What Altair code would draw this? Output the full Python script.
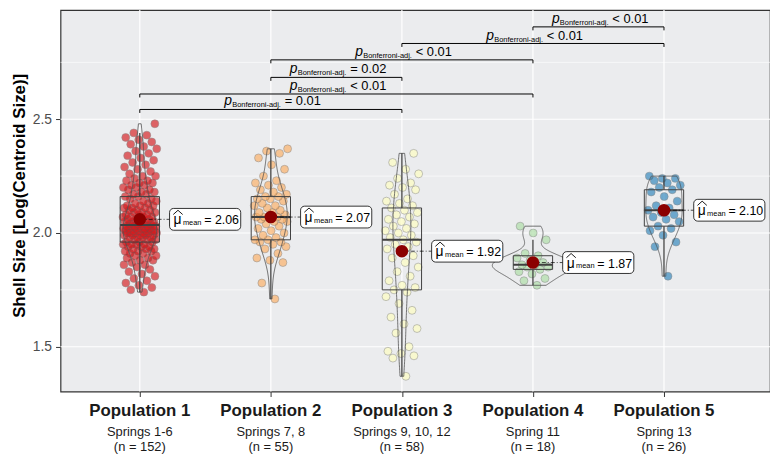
import altair as alt
import numpy as np
import pandas as pd

FONT = "Liberation Sans"

groups = ["Population 1", "Population 2", "Population 3", "Population 4", "Population 5"]
springs = ["Springs 1-6", "Springs 7, 8", "Springs 9, 10, 12", "Spring 11", "Spring 13"]
n_labels = ["(n = 152)", "(n = 55)", "(n = 58)", "(n = 18)", "(n = 26)"]
colors = ["#D7191C", "#FDAE61", "#FFFFBF", "#ABDDA4", "#2B83BA"]

pop1 = [
    1.74, 1.75, 1.76, 1.77, 1.78, 1.79, 1.80, 1.81, 1.82, 1.83,
    1.84, 1.85, 1.86, 1.86, 1.87, 1.88, 1.88, 1.89, 1.89, 1.90,
    1.90, 1.91, 1.91, 1.92, 1.92, 1.92, 1.93, 1.93, 1.93, 1.94,
    1.94, 1.94, 1.95, 1.95, 1.95, 1.95, 1.96, 1.96,
    1.96, 1.97, 1.97, 1.97, 1.98, 1.98, 1.98, 1.98, 1.99, 1.99,
    1.99, 1.99, 1.99, 2.00, 2.00, 2.00, 2.00, 2.00, 2.00, 2.01,
    2.01, 2.01, 2.01, 2.01, 2.01, 2.02, 2.02, 2.02, 2.02, 2.02,
    2.02, 2.03, 2.03, 2.03, 2.03, 2.03, 2.03, 2.03,
    2.04, 2.04, 2.04, 2.04, 2.05, 2.05, 2.05, 2.05, 2.06, 2.06,
    2.06, 2.06, 2.07, 2.07, 2.07, 2.07, 2.08, 2.08, 2.08, 2.09,
    2.09, 2.09, 2.10, 2.10, 2.10, 2.11, 2.11, 2.11, 2.12, 2.12,
    2.12, 2.13, 2.13, 2.14, 2.14, 2.15, 2.15, 2.16,
    2.16, 2.17, 2.17, 2.18, 2.18, 2.19, 2.19, 2.20, 2.20, 2.21,
    2.21, 2.22, 2.22, 2.23, 2.23, 2.24, 2.25, 2.25, 2.26, 2.27,
    2.28, 2.29, 2.30, 2.31, 2.32, 2.33, 2.34, 2.35, 2.36, 2.37,
    2.38, 2.39, 2.40, 2.41, 2.42, 2.43, 2.44, 2.48,
]
pop2 = [
    1.71, 1.78, 1.87, 1.88, 1.89, 1.91, 1.93, 1.94, 1.95, 1.96, 1.96, 1.97, 1.97, 1.98,
    1.99, 2.00, 2.01, 2.02, 2.03, 2.04, 2.05, 2.05, 2.06, 2.06, 2.07, 2.07, 2.07, 2.07,
    2.08, 2.09, 2.09, 2.10, 2.11, 2.12, 2.12, 2.13, 2.14, 2.15, 2.15, 2.16, 2.16,
    2.17, 2.18, 2.19, 2.20, 2.21, 2.22, 2.23, 2.25, 2.28, 2.30, 2.33, 2.35, 2.36, 2.37,
]
pop3 = [
    1.37, 1.45, 1.46, 1.47, 1.48, 1.50, 1.56, 1.58, 1.60, 1.63, 1.66, 1.69, 1.72, 1.74, 1.75,
    1.76, 1.77, 1.79, 1.81, 1.83, 1.85, 1.87, 1.89, 1.90, 1.92, 1.93, 1.94, 1.95, 1.96, 1.97,
    1.98, 1.99, 2.00, 2.01, 2.02, 2.03, 2.04, 2.05, 2.06, 2.07, 2.08, 2.09, 2.10, 2.11,
    2.12, 2.13, 2.14, 2.15, 2.17, 2.19, 2.20, 2.21, 2.22, 2.24, 2.26, 2.28, 2.31, 2.35,
]
pop4 = [1.77, 1.79, 1.80, 1.82, 1.83, 1.84, 1.85, 1.85, 1.86, 1.86, 1.87, 1.88, 1.89,
        1.90, 1.91, 1.97, 2.00, 2.03]
pop5 = [1.81, 1.94, 1.96, 1.99, 2.01, 2.02, 2.03, 2.05, 2.06, 2.07, 2.08, 2.09, 2.10,
        2.11, 2.12, 2.14, 2.16, 2.18, 2.19, 2.20, 2.21, 2.22, 2.23, 2.24, 2.24, 2.25]

means = [2.06, 2.07, 1.92, 1.87, 2.10]
mean_text = ["= 2.06", "= 2.07", "= 1.92", "= 1.87", "= 2.10"]
q1 = [1.96, 1.97, 1.75, 1.84, 2.03]
median = [2.035, 2.07, 1.97, 1.86, 2.10]
q3 = [2.16, 2.16, 2.11, 1.90, 2.19]
whisk_lo = [1.74, 1.71, 1.37, 1.77, 1.81]
whisk_hi = [2.44, 2.37, 2.35, 1.97, 2.25]

pair_from = [1, 1, 2, 2, 3, 4]
pair_to = [3, 4, 3, 4, 5, 5]
pair_y = [2.543, 2.611, 2.684, 2.761, 2.833, 2.906]
pair_p = ["= 0.01", "< 0.01", "= 0.02", "< 0.01", "< 0.01", "< 0.01"]

y_major = [1.5, 2.0, 2.5]
y_minor = [1.75, 2.25, 2.75]
positions = [1, 2, 3, 4, 5]

# ---------------- tables ----------------
pops = [pop1, pop2, pop3, pop4, pop5]
pts = pd.DataFrame({
    "pop": np.repeat(positions, [len(p) for p in pops]),
    "value": np.concatenate(pops),
})
stats = pd.DataFrame({
    "pop": positions, "q1": q1, "med": median, "q3": q3,
    "lo": whisk_lo, "hi": whisk_hi, "mean": means, "mtxt": mean_text,
})
pairs = pd.DataFrame({"a": pair_from, "b": pair_to, "y": pair_y, "ptxt": pair_p})
labels = pd.DataFrame({"pop": positions, "grp": groups, "spr": springs, "nl": n_labels})

W, H = 716, 385
xs = alt.Scale(domain=[0.395, 5.809], nice=False, zero=False)
ys = alt.Scale(domain=[1.303, 2.98], nice=False, zero=False)
PX_X = (5.809 - 0.395) / W   # data units per pixel (x)
PX_Y = (2.98 - 1.303) / H    # data units per pixel (y)
xaxis = alt.Axis(values=positions, labels=False, ticks=True, tickSize=5, tickColor="#333333",
                 tickWidth=1, domain=False, grid=False, title=None)
yaxis = alt.Axis(values=y_major, format=".1f", labelFontSize=14, labelColor="#4D4D4D",
                 labelFont=FONT, tickSize=5, tickColor="#333333", tickWidth=1, labelPadding=4,
                 domain=False, grid=False, title="Shell Size [Log(Centroid Size)]",
                 titleFontSize=17, titleFontWeight="bold", titleColor="black", titleFont=FONT,
                 titleX=-32, titleY=187)


def X(f):
    return alt.X(f, type="quantitative", scale=xs, axis=xaxis)


def Y(f):
    return alt.Y(f, type="quantitative", scale=ys, axis=yaxis)


GRID = "#FFFFFF"
grid_major = alt.Chart(pd.DataFrame({"v": y_major})).mark_rule(color=GRID, strokeWidth=1.2).encode(y=Y("v"))
grid_minor = alt.Chart(pd.DataFrame({"v": y_minor})).mark_rule(color=GRID, strokeWidth=0.6).encode(y=Y("v"))
grid_x = alt.Chart(pd.DataFrame({"pop": positions})).mark_rule(color=GRID, strokeWidth=1.2).encode(x=X("pop"))

points = alt.Chart(pts).transform_window(
    idx="row_number()", groupby=["pop"]
).transform_calculate(
    xj="datum.pop + ((datum.idx * 0.6180339887) % 1 - 0.5) * 0.26"
).mark_circle(size=64, opacity=0.65, stroke="#555555", strokeWidth=0.5).encode(
    x=X("xj"), y=Y("value"),
    fill=alt.Fill("pop:N", scale=alt.Scale(domain=positions, range=colors), legend=None),
)

violin = alt.Chart(pts).transform_density(
    "value", as_=["value", "density"], groupby=["pop"], resolve="independent", steps=150
).transform_joinaggregate(dmax="max(density)").transform_calculate(
    xl="datum.pop - 0.31 * datum.density / datum.dmax",
    xr="datum.pop + 0.31 * datum.density / datum.dmax",
).mark_area(orient="horizontal", fillOpacity=0, stroke="#505050", strokeWidth=0.8).encode(
    y=Y("value"), x=X("xl"), x2="xr:Q", detail="pop:N"
)

sbase = alt.Chart(stats).transform_calculate(
    bl="datum.pop - 0.15", br="datum.pop + 0.15",
    lx="datum.pop + 0.227", rx="datum.pop + 0.77",
    yb=f"datum.mean - {11 * PX_Y}", yt=f"datum.mean + {11 * PX_Y}",
    hx=f"datum.pop + 0.227 + {8.5 * PX_X}", hy=f"datum.mean + {7 * PX_Y}",
)
BOX = "#404040"
box = sbase.mark_rect(fillOpacity=0, stroke=BOX, strokeWidth=1).encode(
    x=X("bl"), x2="br:Q", y=Y("q1"), y2="q3:Q")
med = sbase.mark_rule(color=BOX, strokeWidth=2).encode(x=X("bl"), x2="br:Q", y=Y("med"))
wlo = sbase.mark_rule(color=BOX, strokeWidth=1.3).encode(x=X("pop"), y=Y("lo"), y2="q1:Q")
whi = sbase.mark_rule(color=BOX, strokeWidth=1.3).encode(x=X("pop"), y=Y("q3"), y2="hi:Q")
conn = sbase.mark_rule(color="black", strokeWidth=0.7, strokeDash=[4, 2, 1, 2]).encode(
    x=X("pop"), x2="lx:Q", y=Y("mean"))
mdot = sbase.mark_circle(size=160, color="#8B0000", opacity=1).encode(x=X("pop"), y=Y("mean"))
lbox = sbase.mark_rect(fill="white", stroke="black", strokeWidth=0.8, cornerRadius=4).encode(
    x=X("lx"), x2="rx:Q", y=Y("yb"), y2="yt:Q")
t_mu = sbase.mark_text(align="left", baseline="alphabetic", dx=4, dy=5, fontSize=14, text="μ",
                       color="black").encode(x=X("lx"), y=Y("mean"))
t_hat = sbase.mark_point(shape="M -1 0.45 L 0 -0.45 L 1 0.45", filled=False, size=90,
                         color="black", strokeWidth=0.9, opacity=1).encode(x=X("hx"), y=Y("hy"))
t_sub = sbase.mark_text(align="left", baseline="alphabetic", dx=13.5, dy=6, fontSize=7.5, text="mean",
                        color="black").encode(x=X("lx"), y=Y("mean"))
t_val = sbase.mark_text(align="left", baseline="alphabetic", dx=35, dy=5, fontSize=12.5,
                        color="black").encode(x=X("lx"), y=Y("mean"), text="mtxt:N")

pbase = alt.Chart(pairs).transform_calculate(c="(datum.a + datum.b) / 2", ty=f"datum.y - {3.5 * PX_Y}")
br_line = pbase.mark_rule(color="black", strokeWidth=1).encode(x=X("a"), x2="b:Q", y=Y("y"))
br_ta = pbase.mark_rule(color="black", strokeWidth=1).encode(x=X("a"), y=Y("y"), y2="ty:Q")
br_tb = pbase.mark_rule(color="black", strokeWidth=1).encode(x=X("b"), y=Y("y"), y2="ty:Q")
p_p = pbase.mark_text(align="left", baseline="alphabetic", dx=-47, dy=-4, fontSize=14,
                      fontStyle="italic", text="p", color="black").encode(x=X("c"), y=Y("y"))
p_sub = pbase.mark_text(align="left", baseline="alphabetic", dx=-39, dy=-2, fontSize=7.5,
                        text="Bonferroni-adj.", color="black").encode(x=X("c"), y=Y("y"))
p_val = pbase.mark_text(align="left", baseline="alphabetic", dx=14, dy=-4, fontSize=13,
                        color="black").encode(x=X("c"), y=Y("y"), text="ptxt:N")

lb = alt.Chart(labels)
l_grp = lb.mark_text(fontSize=17, fontWeight="bold", baseline="middle", color="#1A1A1A").encode(
    x=X("pop"), y=alt.value(H + 20), text="grp:N")
l_spr = lb.mark_text(fontSize=13, baseline="middle", color="#1A1A1A").encode(
    x=X("pop"), y=alt.value(H + 41), text="spr:N")
l_n = lb.mark_text(fontSize=13, baseline="middle", color="#1A1A1A").encode(
    x=X("pop"), y=alt.value(H + 56), text="nl:N")

chart = alt.layer(
    grid_minor, grid_major, grid_x, points, violin, box, med, wlo, whi, conn, mdot,
    lbox, t_mu, t_hat, t_sub, t_val, br_line, br_ta, br_tb, p_p, p_sub, p_val, l_grp, l_spr, l_n,
).properties(
    width=W, height=H,
    autosize=alt.AutoSizeParams(type="none"),
    padding={"left": 53, "top": 0, "right": 0, "bottom": 64},
).configure(font=FONT).configure_view(fill="#EBECEE", stroke="#333333", strokeWidth=1.2)

chart.save("out.html", embed_options={"renderer": "svg", "actions": False})
